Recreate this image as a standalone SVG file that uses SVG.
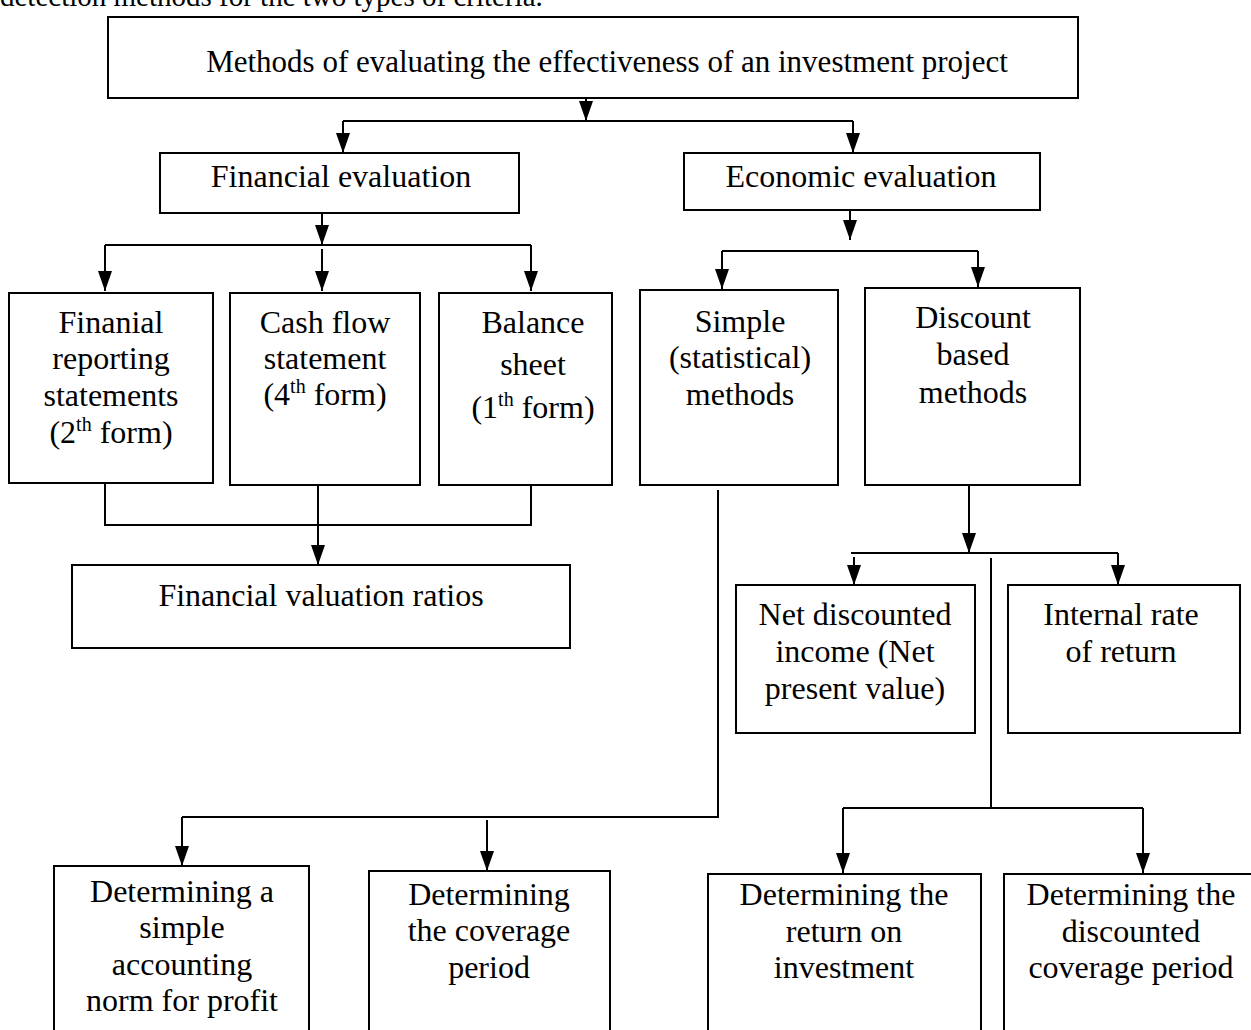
<svg xmlns="http://www.w3.org/2000/svg" width="1251" height="1030" viewBox="0 0 1251 1030">
<style>
rect.box{fill:#fff;stroke:#000;stroke-width:2}
text{font-family:"Liberation Serif","Times New Roman",serif;font-size:32px;fill:#000;text-anchor:middle}
text.intro{text-anchor:start;font-size:29px}
text.title{font-size:31px}
.sup{font-size:20px}
.conn path{fill:none;stroke:#000;stroke-width:2}
</style>
<defs>
<marker id="ah" viewBox="0 0 20 14" refX="20" refY="7" markerWidth="20" markerHeight="14" markerUnits="userSpaceOnUse" orient="auto">
<path d="M0,0 L20,7 L0,14 z" fill="#000"/>
</marker>
</defs>
<rect width="1251" height="1030" fill="#fff"/>
<text class="intro" x="0" y="6">detection methods for the two types of criteria.</text>

<g class="conn" id="connectors">
<path d="M586,98 V121" marker-end="url(#ah)"/>
<path d="M343,121 H853"/>
<path d="M343,121 V153" marker-end="url(#ah)"/>
<path d="M853,121 V153" marker-end="url(#ah)"/>
<path d="M322,213 V245" marker-end="url(#ah)"/>
<path d="M105,245 H531"/>
<path d="M105,245 V291" marker-end="url(#ah)"/>
<path d="M322,249 V291" marker-end="url(#ah)"/>
<path d="M531,245 V291" marker-end="url(#ah)"/>
<path d="M105,483 V525 H531 V483"/>
<path d="M318,485 V565" marker-end="url(#ah)"/>
<path d="M850,210 V240" marker-end="url(#ah)"/>
<path d="M722,251 H978"/>
<path d="M722,251 V289" marker-end="url(#ah)"/>
<path d="M978,251 V287" marker-end="url(#ah)"/>
<path d="M969,486 V553" marker-end="url(#ah)"/>
<path d="M851,553 H1118"/>
<path d="M854,557 V585" marker-end="url(#ah)"/>
<path d="M1118,553 V585" marker-end="url(#ah)"/>
<path d="M991,558 V808"/>
<path d="M843,808 H1143"/>
<path d="M843,808 V873" marker-end="url(#ah)"/>
<path d="M1143,808 V873" marker-end="url(#ah)"/>
<path d="M718,490 V817 H182"/>
<path d="M182,817 V866" marker-end="url(#ah)"/>
<path d="M487,820 V871" marker-end="url(#ah)"/>
</g>

<g id="n-top"><rect class="box" x="108" y="17" width="970" height="81"/>
<text class="title" x="607" y="72">Methods of evaluating the effectiveness of an investment project</text></g>

<g id="n-financial"><rect class="box" x="160" y="153" width="359" height="60"/>
<text x="341" y="187">Financial evaluation</text></g>

<g id="n-economic"><rect class="box" x="684" y="153" width="356" height="57"/>
<text x="861" y="187">Economic evaluation</text></g>

<g id="n-fin-report"><rect class="box" x="9" y="293" width="204" height="190"/>
<text x="111" y="333">Finanial</text>
<text x="111" y="369">reporting</text>
<text x="111" y="406">statements</text>
<text x="111" y="443">(2<tspan class="sup" dy="-12">th</tspan><tspan dy="12"> form)</tspan></text></g>

<g id="n-cashflow"><rect class="box" x="230" y="293" width="190" height="192"/>
<text x="325" y="333">Cash flow</text>
<text x="325" y="369">statement</text>
<text x="325" y="405">(4<tspan class="sup" dy="-12">th</tspan><tspan dy="12"> form)</tspan></text></g>

<g id="n-balance"><rect class="box" x="439" y="293" width="173" height="192"/>
<text x="533" y="333">Balance</text>
<text x="533" y="375">sheet</text>
<text x="533" y="418">(1<tspan class="sup" dy="-12">th</tspan><tspan dy="12"> form)</tspan></text></g>

<g id="n-ratios"><rect class="box" x="72" y="565" width="498" height="83"/>
<text x="321" y="606">Financial valuation ratios</text></g>

<g id="n-simple"><rect class="box" x="640" y="290" width="198" height="195"/>
<text x="740" y="332">Simple</text>
<text x="740" y="368">(statistical)</text>
<text x="740" y="405">methods</text></g>

<g id="n-discount"><rect class="box" x="865" y="288" width="215" height="197"/>
<text x="973" y="328">Discount</text>
<text x="973" y="365">based</text>
<text x="973" y="403">methods</text></g>

<g id="n-npv"><rect class="box" x="736" y="585" width="239" height="148"/>
<text x="855" y="625">Net discounted</text>
<text x="855" y="662">income (Net</text>
<text x="855" y="699">present value)</text></g>

<g id="n-irr"><rect class="box" x="1008" y="585" width="232" height="148"/>
<text x="1121" y="625">Internal rate</text>
<text x="1121" y="662">of return</text></g>

<g id="n-arr"><rect class="box" x="54" y="866" width="255" height="180"/>
<text x="182" y="902">Determining a</text>
<text x="182" y="938">simple</text>
<text x="182" y="975">accounting</text>
<text x="182" y="1011">norm for profit</text></g>

<g id="n-payback"><rect class="box" x="369" y="871" width="241" height="180"/>
<text x="489" y="905">Determining</text>
<text x="489" y="941">the coverage</text>
<text x="489" y="978">period</text></g>

<g id="n-roi"><rect class="box" x="708" y="874" width="273" height="180"/>
<text x="844" y="905">Determining the</text>
<text x="844" y="942">return on</text>
<text x="844" y="978">investment</text></g>

<g id="n-dpp"><rect class="box" x="1004" y="874" width="260" height="180"/>
<text x="1131" y="905">Determining the</text>
<text x="1131" y="942">discounted</text>
<text x="1131" y="978">coverage period</text></g>
</svg>
